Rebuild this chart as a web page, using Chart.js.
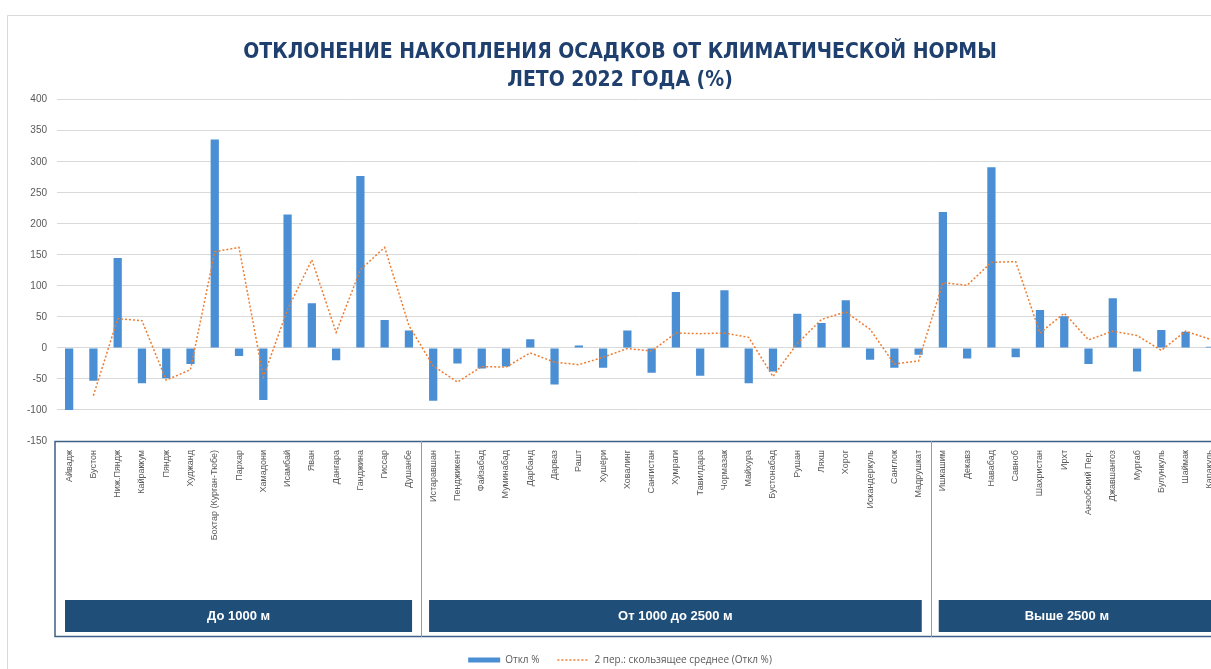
<!DOCTYPE html>
<html>
<head>
<meta charset="utf-8">
<script src="https://cdn.jsdelivr.net/npm/chart.js@4"></script>
<style>
  html, body { margin: 0; padding: 0; background: #fff; overflow: hidden; }
  #wrap { position: absolute; left: 0; top: 0; width: 1232px; height: 675px; }
</style>
</head>
<body>
<div id="wrap"><canvas id="chart" width="1232" height="675"></canvas></div>
<script>
const stations = [
  'Айвадж', 'Бустон', 'Ниж.Пяндж', 'Кайраккум', 'Пяндж', 'Худжанд', 'Бохтар (Курган-Тюбе)', 'Пархар',
  'Хамадони', 'Исамбай', 'Яван', 'Дангара', 'Ганджина', 'Гиссар', 'Душанбе',
  'Истаравшан', 'Пенджикент', 'Файзабад', 'Муминабад', 'Дарбанд', 'Дарваз', 'Рашт', 'Хушёри',
  'Ховалинг', 'Сангистан', 'Хумраги', 'Тавилдара', 'Чормазак', 'Майхура', 'Бустонабад', 'Рушан',
  'Ляхш', 'Хорог', 'Искандеркуль', 'Санглок', 'Мадрушкат',
  'Ишкашим', 'Декавз', 'Навабад', 'Савноб', 'Шахристан', 'Ирхт', 'Анзобский Пер.', 'Джавшангоз',
  'Мургаб', 'Булункуль', 'Шаймак', 'Каракуль'
];

// Откл %
const deviation = [
  -100, -53, 145, -57, -49, -26, 336, -13, -84, 215, 72, -20, 277, 45, 28,
  -85, -25, -33, -30, 14, -59, 4, -32, 28, -40, 90, -45, 93, -57, -38, 55, 40, 77, -19, -32, -11,
  219, -17, 291, -15, 61, 51, -26, 80, -38, 29, 26, 2
];

// 2 пер.: скользящее среднее
const movingAvg = [
  null, -77, 47, 44, -52, -35, 155, 162, -47, 62, 142, 25, 126, 162, 36,
  -29, -55, -30, -31, -8, -23, -27, -15, -1, -5, 24, 23, 24, 17, -46, 7, 46, 58, 30, -26, -21,
  105, 101, 138, 139, 24, 56, 13, 27, 20, -4, 27, 14
];

const groupNames = ['До 1000 м', 'От 1000 до 2500 м', 'Выше 2500 м'];
const groupSizes = [15, 21, 12];

const yMin = -150, yMax = 400, yStep = 50;

const BLUE = '#4a8fd4';
const ORANGE = '#ed7d31';
const NAVY = '#1f4e79';

// frame, altitude groups and header boxes under the category axis
const groupBoxes = {
  id: 'groupBoxes',
  afterDraw(chart) {
    const ctx = chart.ctx;
    const xs = chart.scales.x;
    const area = chart.chartArea;
    const step = xs.getPixelForValue(1) - xs.getPixelForValue(0);
    const top = xs.top, bottom = xs.bottom;
    ctx.save();

    // outer light frame
    ctx.strokeStyle = '#d9d9d9';
    ctx.lineWidth = 1;
    ctx.beginPath();
    ctx.moveTo(7.5, 675);
    ctx.lineTo(7.5, 15.5);
    ctx.lineTo(chart.width, 15.5);
    ctx.stroke();

    // axis box
    ctx.strokeStyle = '#3e5f86';
    ctx.lineWidth = 1.5;
    ctx.strokeRect(area.left - 2, top + 0.5, chart.width, bottom - top - 1);

    let start = 0;
    groupNames.forEach((name, i) => {
      const x0 = xs.getPixelForValue(start) - step / 2;
      const x1 = xs.getPixelForValue(start + groupSizes[i] - 1) + step / 2;
      if (i > 0) {
        ctx.strokeStyle = '#8a9cb3';
        ctx.lineWidth = 1;
        ctx.beginPath();
        ctx.moveTo(Math.round(x0) + 0.5, top);
        ctx.lineTo(Math.round(x0) + 0.5, bottom);
        ctx.stroke();
      }
      const bx0 = x0 + 8, bx1 = x1 - 9;
      ctx.fillStyle = NAVY;
      ctx.fillRect(bx0, bottom - 37, bx1 - bx0, 32);
      ctx.fillStyle = '#ffffff';
      ctx.font = 'bold 13px "Liberation Sans", Arial, sans-serif';
      ctx.textAlign = 'center';
      ctx.textBaseline = 'middle';
      const cx = (bx0 + Math.min(bx1, 1195)) / 2;
      ctx.fillText(name, cx, bottom - 21);
      start += groupSizes[i];
    });
    ctx.restore();
  }
};

const ctx = document.getElementById('chart').getContext('2d');
new Chart(ctx, {
  data: {
    labels: stations,
    datasets: [{
      type: 'bar',
      label: 'Откл %',
      data: deviation,
      backgroundColor: BLUE,
      borderWidth: 0,
      barPercentage: 0.34,
      categoryPercentage: 1,
      pointStyle: 'rect',
      order: 1
    }, {
      type: 'line',
      label: '2 пер.: скользящее среднее (Откл %)',
      data: movingAvg,
      borderColor: ORANGE,
      backgroundColor: ORANGE,
      borderWidth: 1.5,
      borderDash: [2, 2],
      pointRadius: 0,
      tension: 0,
      fill: false,
      pointStyle: 'line',
      order: 0
    }]
  },
  options: {
    responsive: false,
    animation: false,
    layout: { padding: { left: 18, right: 10, top: 0, bottom: 0 } },
    scales: {
      x: {
        grid: { display: false, drawTicks: false },
        border: { display: false },
        ticks: {
          autoSkip: false,
          maxRotation: 90,
          minRotation: 90,
          padding: 9,
          color: '#595959',
          font: { family: '"Liberation Sans", Arial, sans-serif', size: 9 }
        },
        afterFit(scale) { scale.height = 196; }
      },
      y: {
        min: yMin,
        max: yMax,
        grid: { color: '#d9d9d9', drawTicks: false },
        border: { display: false },
        ticks: {
          stepSize: yStep,
          padding: 10,
          color: '#595959',
          font: { family: '"Liberation Sans", Arial, sans-serif', size: 10 }
        },
        afterFit(scale) { scale.width = 39; }
      }
    },
    plugins: {
      title: {
        display: true,
        text: ['ОТКЛОНЕНИЕ НАКОПЛЕНИЯ ОСАДКОВ ОТ КЛИМАТИЧЕСКОЙ НОРМЫ', 'ЛЕТО 2022 ГОДА (%)'],
        color: '#1f3f6e',
        font: { family: '"Liberation Sans Narrow", "DejaVu Sans Condensed", Arial, sans-serif', size: 21, weight: 'bold', lineHeight: 1.35 },
        padding: { top: 38, bottom: 5 }
      },
      legend: {
        position: 'bottom',
        labels: {
          usePointStyle: true,
          pointStyleWidth: 32,
          boxHeight: 5,
          padding: 18,
          color: '#595959',
          font: { family: '"Open Sans", "Liberation Sans", sans-serif', size: 10 },
          sort: (a, b) => a.datasetIndex - b.datasetIndex,
          generateLabels(chart) {
            const items = Chart.defaults.plugins.legend.labels.generateLabels(chart);
            items.forEach(item => {
              if (item.datasetIndex === 1) {
                item.lineDash = [2, 2];
                item.lineWidth = 1.5;
                item.strokeStyle = ORANGE;
              }
            });
            return items;
          }
        }
      },
      tooltip: { enabled: false }
    }
  },
  plugins: [groupBoxes]
});
</script>
</body>
</html>
